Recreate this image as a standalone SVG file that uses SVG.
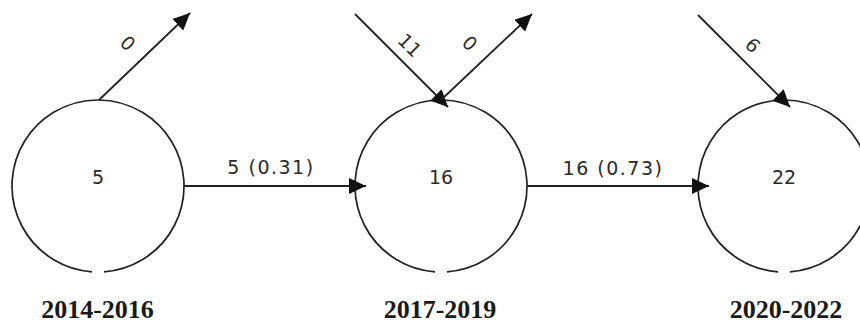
<svg xmlns="http://www.w3.org/2000/svg" width="860" height="323" viewBox="0 0 860 323">
  <style>
    .node { fill: none; stroke: #222; stroke-width: 1.7; }
    .edge { fill: none; stroke: #222; stroke-width: 1.8; }
    .nlabel { font-family: "DejaVu Sans", Verdana, sans-serif; font-size: 19px; fill: #2a2a2a; text-anchor: middle; }
    .elabel { font-family: "DejaVu Sans", Verdana, sans-serif; font-size: 19px; fill: #2a2a2a; text-anchor: middle; letter-spacing: 1.5px; }
    .rlabel { font-family: "DejaVu Sans", Verdana, sans-serif; font-size: 19px; fill: #2a2a2a; text-anchor: middle; }
    .period { font-family: "Liberation Serif", "Times New Roman", serif; font-size: 26px; font-weight: bold; fill: #1a1a1a; text-anchor: middle; }
  </style>
  <defs>
    <marker id="arrow" markerUnits="userSpaceOnUse" markerWidth="18" markerHeight="18" refX="17" refY="8" orient="auto">
      <path d="M0,0 L17,8 L0,16 Z" fill="#111"/>
    </marker>
  </defs>

  <g id="node-2014">
    <path class="node" d="M92,271.8 A86,86 0 1 1 104,271.8"/>
    <text class="nlabel" x="98" y="184">5</text>
  </g>
  <g id="node-2017">
    <path class="node" d="M435,271.8 A86,86 0 1 1 447,271.8"/>
    <text class="nlabel" x="441" y="184">16</text>
  </g>
  <g id="node-2020">
    <path class="node" d="M778,271.8 A86,86 0 1 1 790,271.8"/>
    <text class="nlabel" x="784" y="184">22</text>
  </g>

  <g id="connectors">
    <line class="edge" x1="99" y1="100" x2="190" y2="13" marker-end="url(#arrow)"/>
    <line class="edge" x1="184" y1="186" x2="366" y2="186" marker-end="url(#arrow)"/>
    <line class="edge" x1="355" y1="14" x2="448" y2="107" marker-end="url(#arrow)"/>
    <line class="edge" x1="441" y1="100" x2="532" y2="14" marker-end="url(#arrow)"/>
    <line class="edge" x1="527" y1="186" x2="709" y2="186" marker-end="url(#arrow)"/>
    <line class="edge" x1="698" y1="15" x2="790" y2="107" marker-end="url(#arrow)"/>

    <text class="rlabel" transform="translate(128,43) rotate(45)" x="0" y="7">0</text>
    <text class="elabel" x="271" y="174">5 (0.31)</text>
    <text class="rlabel" transform="translate(410,45) rotate(45)" x="0" y="7">11</text>
    <text class="rlabel" transform="translate(470,43) rotate(45)" x="0" y="7">0</text>
    <text class="elabel" x="613" y="175">16 (0.73)</text>
    <text class="rlabel" transform="translate(753,45) rotate(45)" x="0" y="7">6</text>
  </g>

  <g id="period-labels">
    <text class="period" x="97.5" y="318">2014-2016</text>
    <text class="period" x="440" y="318">2017-2019</text>
    <text class="period" x="786" y="318">2020-2022</text>
  </g>
</svg>
